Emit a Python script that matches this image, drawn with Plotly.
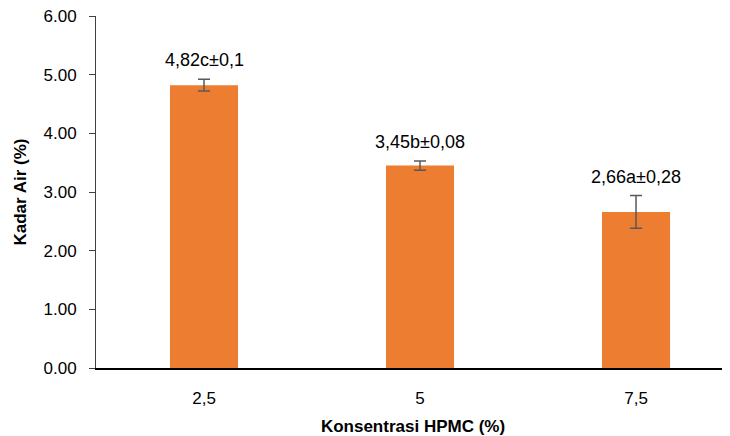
import plotly.graph_objects as go

categories = ["2,5", "5", "7,5"]
values = [4.82, 3.45, 2.66]
errors = [0.1, 0.08, 0.28]
labels = ["4,82c±0,1", "3,45b±0,08", "2,66a±0,28"]
y_ticks = [0, 1, 2, 3, 4, 5, 6]

FONT = "Arial, Liberation Sans, sans-serif"

fig = go.Figure()
fig.add_trace(go.Bar(
    x=categories, y=values, width=0.315,
    marker=dict(color="#ED7D31", line=dict(width=0)),
    error_y=dict(type="data", array=errors, visible=True, color="#595959",
                 thickness=1.5, width=6),
))

for i, (v, e, t) in enumerate(zip(values, errors, labels)):
    fig.add_annotation(x=i, y=v + e, text=t, showarrow=False, yanchor="bottom",
                       yshift=7, font=dict(family=FONT, size=18, color="#000000"))

fig.update_layout(
    width=722, height=428,
    margin=dict(l=88, r=0, t=8, b=68),
    paper_bgcolor="white", plot_bgcolor="white",
    showlegend=False,
    font=dict(family=FONT, size=17, color="#000000"),
    xaxis=dict(
        type="category",
        range=[-0.5, 2.435], automargin=False,
        showline=True, linecolor="#000000", linewidth=1.5,
        ticks="outside", ticklen=14, tickcolor="rgba(0,0,0,0)",
        showgrid=False,
        tickfont=dict(size=17),
        title=dict(text="<b>Konsentrasi HPMC (%)</b>", font=dict(size=17), standoff=18),
    ),
    yaxis=dict(
        range=[0, 6], tickvals=y_ticks, tickformat=".2f", automargin=False,
        showline=True, linecolor="#404040", linewidth=1,
        ticks="outside", ticklen=6, tickcolor="#404040",
        ticklabelstandoff=9, ticklabeloverflow="allow",
        showgrid=False, zeroline=False,
        tickfont=dict(size=17),
        title=dict(text="<b>Kadar Air (%)</b>", font=dict(size=17), standoff=12),
    ),
)

fig.write_html("out.html")
